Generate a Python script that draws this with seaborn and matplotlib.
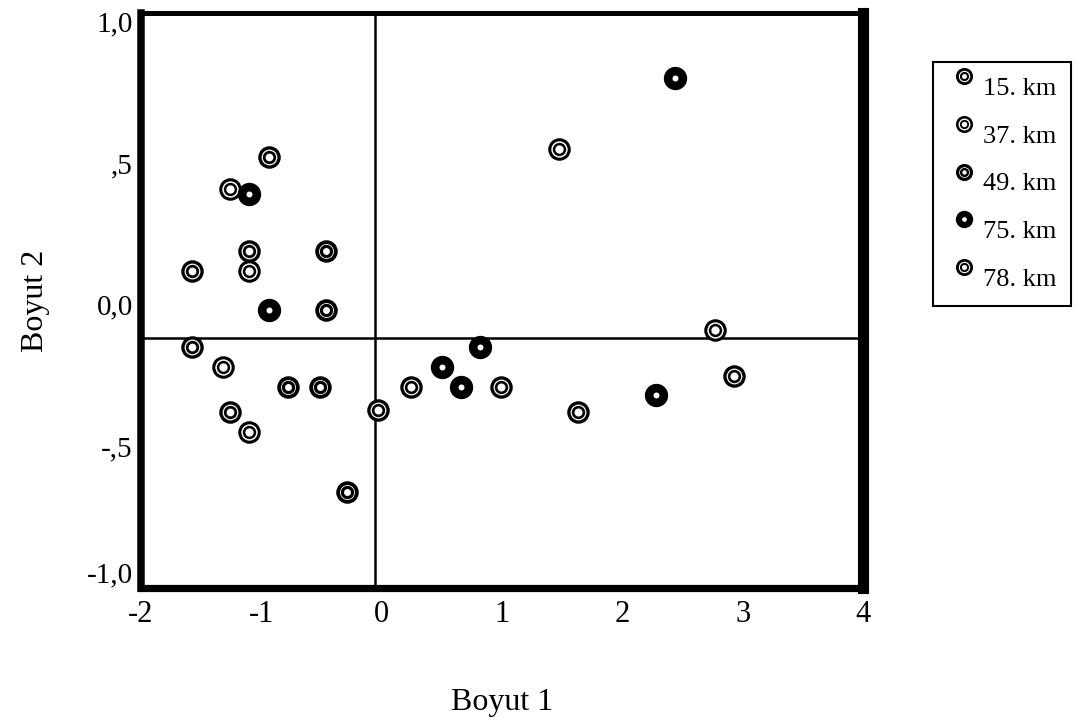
import numpy as np
import pandas as pd
import seaborn as sns
import matplotlib.pyplot as plt
from matplotlib.lines import Line2D
from matplotlib.legend_handler import HandlerTuple
import matplotlib.transforms as mtransforms

# ---------------- data ----------------
series_names = ["15. km", "37. km", "49. km", "75. km", "78. km"]

boyut1 = [-0.94, -1.26, -1.10, -1.10, -0.46, -1.58, -1.10, -0.94, -0.46,
          -1.58, -1.32, -0.78, -0.51, -1.26, -1.10, -0.29, -0.03, 0.24,
          0.50, 0.66, 0.82, 0.99, 1.63, 2.28, 2.44, 1.47, 2.77, 2.93]
boyut2 = [0.52, 0.41, 0.39, 0.19, 0.19, 0.12, 0.12, -0.02, -0.02,
          -0.15, -0.22, -0.29, -0.29, -0.38, -0.45, -0.66, -0.37, -0.29,
          -0.22, -0.29, -0.15, -0.29, -0.38, -0.32, 0.80, 0.55, -0.09, -0.25]
mesafe = ["15. km", "37. km", "75. km", "15. km", "49. km", "15. km", "37. km",
          "75. km", "49. km", "15. km", "37. km", "49. km", "49. km", "15. km",
          "37. km", "49. km", "78. km", "78. km", "75. km", "75. km", "75. km",
          "78. km", "78. km", "75. km", "75. km", "37. km", "37. km", "78. km"]

x_ticks = [-2, -1, 0, 1, 2, 3, 4]
x_tick_labels = ["-2", "-1", "0", "1", "2", "3", "4"]
y_ticks = [-1.0, -0.5, 0.0, 0.5, 1.0]
y_tick_labels = ["-1,0", "-,5", "0,0", ",5", "1,0"]
ref_x = -0.056
ref_y = -0.118

df = pd.DataFrame({"Boyut 1": boyut1, "Boyut 2": boyut2, "Mesafe": mesafe})

# ---------------- style ----------------
sns.set_theme(style="white")
plt.rcParams["font.family"] = ["Liberation Serif", "DejaVu Serif"]
plt.rcParams["text.color"] = "black"
plt.rcParams["axes.labelcolor"] = "black"
plt.rcParams["xtick.color"] = "black"
plt.rcParams["ytick.color"] = "black"

W, H = 1087, 718
fig = plt.figure(figsize=(W / 100, H / 100), dpi=100)
ax = fig.add_axes([141 / W, 1 - 588 / H, (863 - 141) / W, (588 - 13) / H])
ax.set_facecolor("white")

# marker styles (outer ring lw, inner ring lw) in points
open_style = {
    "15. km": (2.4, 2.0),
    "37. km": (2.2, 1.8),
    "49. km": (2.7, 2.3),
    "78. km": (2.4, 1.9),
}
OUT_D = 16.2   # outer diameter (pt)
IN_D = 9.6     # inner ring outer diameter (pt)

for name in series_names:
    sub = df[df["Mesafe"] == name]
    if name == "75. km":
        sns.scatterplot(data=sub, x="Boyut 1", y="Boyut 2", ax=ax, legend=False,
                        marker="o", s=(OUT_D + 0.6) ** 2, color="black",
                        edgecolor="black", linewidth=0, zorder=3)
        sns.scatterplot(data=sub, x="Boyut 1", y="Boyut 2", ax=ax, legend=False,
                        marker="o", s=4.3 ** 2, color="white",
                        edgecolor="white", linewidth=0, zorder=4)
    else:
        lo, li = open_style[name]
        sns.scatterplot(data=sub, x="Boyut 1", y="Boyut 2", ax=ax, legend=False,
                        marker="o", s=(OUT_D - lo) ** 2, color="white",
                        edgecolor="black", linewidth=lo, zorder=3)
        sns.scatterplot(data=sub, x="Boyut 1", y="Boyut 2", ax=ax, legend=False,
                        marker="o", s=(IN_D - li) ** 2, color="white",
                        edgecolor="black", linewidth=li, zorder=4)

ax.axhline(ref_y, color="black", lw=1.8, zorder=1)
ax.axvline(ref_x, color="black", lw=1.8, zorder=1)

ax.set_xlim(-2, 4)
ax.set_ylim(-1.0, 1.03)
ax.set_xticks(x_ticks)
ax.set_xticklabels(x_tick_labels, fontsize=22)
ax.set_yticks(y_ticks)
ax.set_yticklabels(y_tick_labels, fontsize=21)
ax.tick_params(axis="both", length=0, colors="black")
ax.tick_params(axis="x", pad=9)
ax.tick_params(axis="y", pad=6)
# the bottom label sits a bit above its tick, as in the reference
lab = ax.get_yticklabels()[0]
lab.set_transform(lab.get_transform() + mtransforms.ScaledTranslation(0, 11 / 72, fig.dpi_scale_trans))

for side, lw in [("left", 5.4), ("bottom", 5.2), ("right", 8.0), ("top", 3.6)]:
    ax.spines[side].set_visible(True)
    ax.spines[side].set_color("black")
    ax.spines[side].set_linewidth(lw)
ax.spines["right"].set_capstyle("projecting")

ax.set_xlabel("Boyut 1", fontsize=23, labelpad=42, color="black")
ax.set_ylabel("Boyut 2", fontsize=23, labelpad=26, color="black")

# ---------------- legend ----------------
handles = []
for name in series_names:
    if name == "75. km":
        h = (Line2D([], [], ls="none", marker="o", ms=12.5, mfc="black", mec="black", mew=0),
             Line2D([], [], ls="none", marker="o", ms=3.4, mfc="white", mec="white", mew=0))
    else:
        lo, li = open_style[name]
        h = (Line2D([], [], ls="none", marker="o", ms=12.3 - lo * 0.85, mfc="white", mec="black", mew=lo * 0.85),
             Line2D([], [], ls="none", marker="o", ms=6.6 - li * 0.75, mfc="white", mec="black", mew=li * 0.75))
    handles.append(h)


class RaisedTuple(HandlerTuple):
    def create_artists(self, legend, orig_handle, xdescent, ydescent, width,
                       height, fontsize, trans):
        off = mtransforms.ScaledTranslation(0, 7 / 72, fig.dpi_scale_trans)
        return super().create_artists(legend, orig_handle, xdescent, ydescent,
                                      width, height, fontsize, trans + off)


leg = fig.legend(handles, series_names, loc="upper left",
                 bbox_to_anchor=(933 / W, 1 - 62 / H), bbox_transform=fig.transFigure,
                 frameon=True, fancybox=False, framealpha=1, edgecolor="black",
                 borderaxespad=0, borderpad=0.55, handlelength=1.25,
                 handletextpad=0.1, labelspacing=0.92, fontsize=19,
                 handler_map={tuple: RaisedTuple(ndivide=1)})
leg.get_frame().set_linewidth(1.5)

fig.savefig("out.png", dpi=100, facecolor="white")
